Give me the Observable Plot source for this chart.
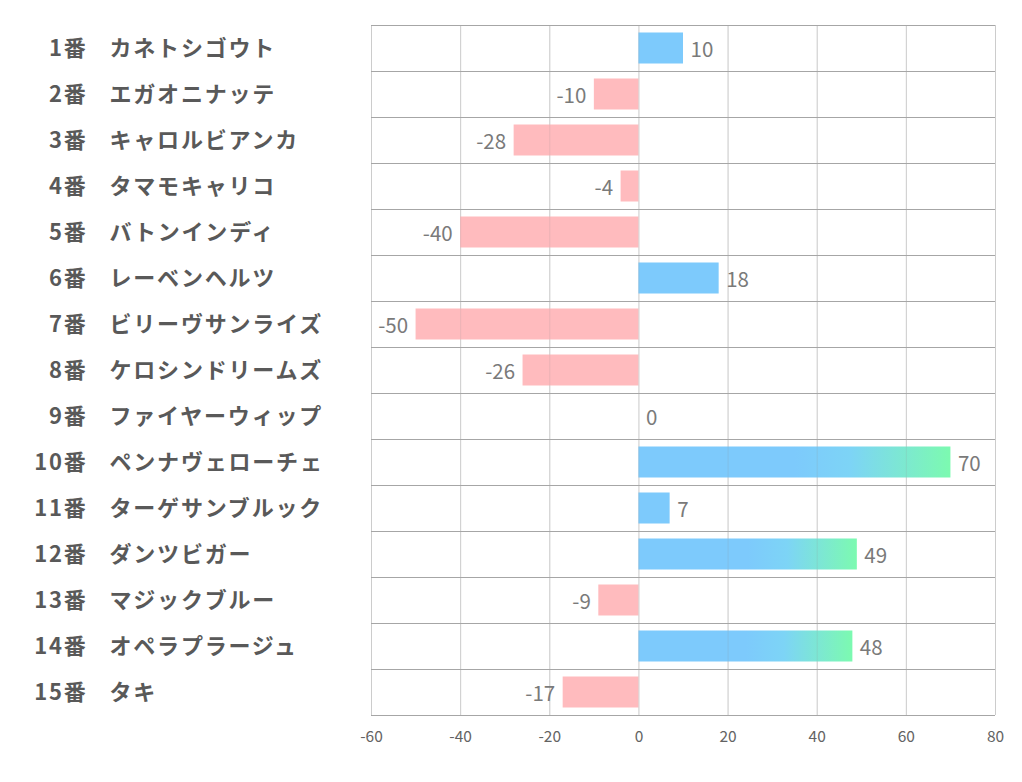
<!DOCTYPE html>
<html><head><meta charset="utf-8">
<script src="https://cdn.jsdelivr.net/npm/d3@7"></script>
<script src="https://cdn.jsdelivr.net/npm/@observablehq/plot@0.6"></script>
<style>body{margin:0;background:#fff}</style>
</head><body><div id="chart"></div>
<script>
const numbers = ["1番","2番","3番","4番","5番","6番","7番","8番","9番","10番","11番","12番","13番","14番","15番"];
const names = ["カネトシゴウト","エガオニナッテ","キャロルビアンカ","タマモキャリコ","バトンインディ","レーベンヘルツ","ビリーヴサンライズ","ケロシンドリームズ","ファイヤーウィップ","ペンナヴェローチェ","ターゲサンブルック","ダンツビガー","マジックブルー","オペラプラージュ","タキ"];
const values = [10,-10,-28,-4,-40,18,-50,-26,0,70,7,49,-9,48,-17];
const xTicks = [-60,-40,-20,0,20,40,60,80];

const data = names.map((n, i) => ({num: numbers[i], name: n, value: values[i]}));
const lastRow = [numbers[numbers.length - 1]];
const tickLabels = xTicks.map(String);

const chart = Plot.plot({
  width: 1022, height: 782,
  marginLeft: 371, marginRight: 27, marginTop: 25, marginBottom: 67,
  style: {fontFamily: "'Noto Sans CJK JP', 'Noto Sans', sans-serif", fontSize: "13px", color: "#595959", background: "#fff"},
  x: {domain: [-60, 80], axis: null},
  y: {domain: numbers, padding: 0, axis: null},
  marks: [
    Plot.ruleX(xTicks, {stroke: "#d9d9d9"}),
    Plot.barX(data, {x: "value", y: "num", insetTop: 7.5, insetBottom: 7.5,
      fill: d => d.value < 0 ? "#ffbbbe" : (d.value >= 40 ? "url(#posGrad)" : "#7dcafc")}),
    Plot.ruleX(xTicks, {stroke: "#909090", strokeOpacity: 0.18}),
    Plot.ruleY(numbers, {y: d => d, dy: -23, stroke: "#a6a6a6"}),
    Plot.ruleY(lastRow, {y: d => d, dy: 23, stroke: "#a6a6a6"}),
    Plot.text(xTicks, {x: d => d, text: (d, i) => tickLabels[i], frameAnchor: "bottom", lineAnchor: "middle", dy: 22,
      fontSize: 15.5, fill: "#636363"}),
    Plot.text(data, {y: "num", text: "num", frameAnchor: "left", textAnchor: "end", dx: -284,
      fontSize: 22, fontWeight: "bold", fill: "#595959"}),
    Plot.text(data, {y: "num", text: "name", frameAnchor: "left", textAnchor: "start", dx: -262,
      fontSize: 22, fontWeight: "bold", fill: "#595959"}),
    Plot.text(data.filter(d => d.value >= 0), {x: "value", y: "num", text: d => String(d.value),
      textAnchor: "start", dx: 7, dy: 2, fontSize: 20.5, fill: "#7a7a7a"}),
    Plot.text(data.filter(d => d.value < 0), {x: "value", y: "num", text: d => String(d.value),
      textAnchor: "end", dx: -8, dy: 2, fontSize: 20.5, fill: "#7a7a7a"})
  ]
});

const svg = d3.select(chart);
const labelSet = new Set([...numbers, ...names]);
svg.selectAll("text").filter(function() { return labelSet.has(this.textContent); })
  .attr("letter-spacing", "1.8").style("letter-spacing", "1.8px");
const grad = svg.insert("defs", ":first-child").append("linearGradient")
  .attr("id", "posGrad").attr("x1", "0").attr("x2", "1").attr("y1", "0").attr("y2", "0");
grad.append("stop").attr("offset", "0").attr("stop-color", "#7dcafc");
grad.append("stop").attr("offset", "0.5").attr("stop-color", "#7dcafc");
grad.append("stop").attr("offset", "0.68").attr("stop-color", "#7dd4f6");
grad.append("stop").attr("offset", "1").attr("stop-color", "#7cfab0");

document.getElementById("chart").appendChild(chart);
</script>
</body></html>
